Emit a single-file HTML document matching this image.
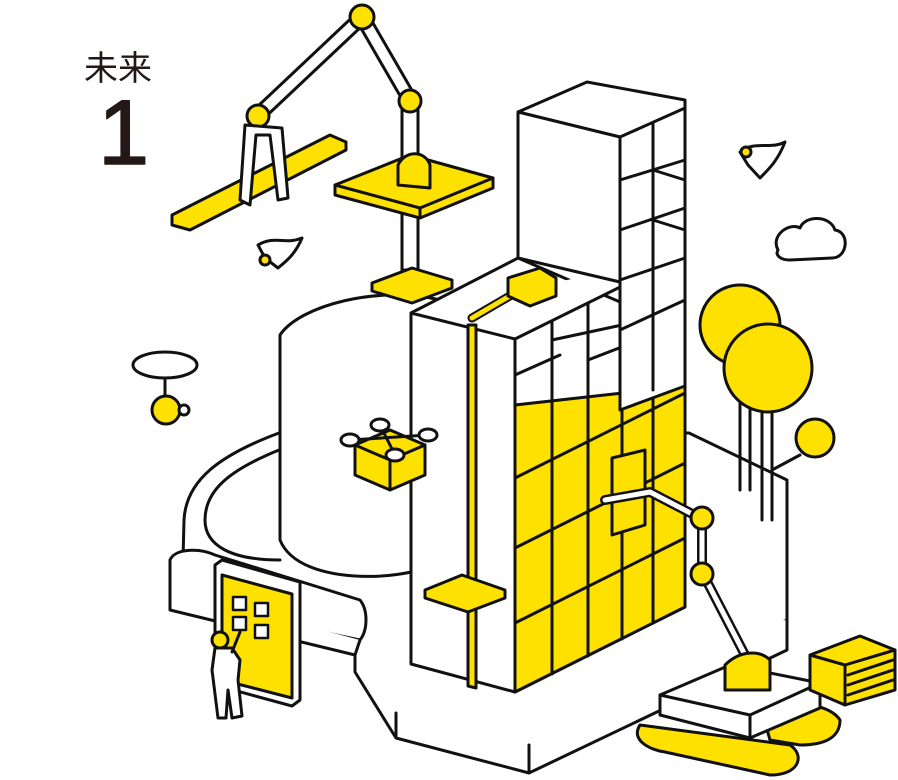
<!DOCTYPE html>
<html><head><meta charset="utf-8"><style>
body{margin:0;background:#fff;width:898px;height:780px;overflow:hidden}
svg{display:block}
text{font-family:"Liberation Sans","Noto Sans CJK JP",sans-serif;fill:#231815}
</style></head><body>
<svg width="898" height="780" viewBox="0 0 898 780" stroke="#111" stroke-width="3" stroke-linejoin="round" stroke-linecap="round" fill="#fff">
<text x="84" y="80" font-size="34" stroke="none">未来</text>
<text x="98" y="164" font-size="92" stroke="#231815" stroke-width="1.5">1</text>

<!-- ground platform -->
<path d="M279,433 C220,455 186,480 184,520 L183,560 L170,600 L355,647 L396,713 L529,745 L787,620 L787,480 L689,433 Z"/>
<path d="M355,647 L355,672 L396,738 L529,773 L787,650 L787,620 M396,713 L396,738 M529,745 L529,773"/>
<path d="M279,450 C230,470 205,490 205,520 C205,545 230,560 280,560" fill="none"/>

<!-- cylinder -->
<path d="M280,335 C300,305 380,285 440,300 L440,560 C420,580 300,590 280,540 Z"/>
<!-- hedge -->
<path d="M170,560 C175,548 200,548 215,555 L360,600 C368,610 368,630 360,640 L170,600 Z"/>
<path d="M170,590 L170,610 L355,655 L360,640"/>

<!-- lower building -->
<path d="M411,313 L518,258 L685,330 L685,607 L515,692 L411,664 Z"/>
<path d="M411,313 L515,339 L685,255 M515,339 L515,692"/>
<!-- yellow grid -->
<path d="M515,405 L685,386 L685,607 L515,692 Z" fill="#FFE100"/>
<g fill="none">
<path d="M552,321 L552,674 M588,303 L588,656 M622,286 L622,639 M653,270 L653,623"/>
<path d="M515,478 L685,393 M515,548 L685,463 M515,623 L685,538"/>
<path d="M515,375 L560,355 M552,340 L622,325 M588,360 L653,335 M622,395 L685,365"/>
</g>
<!-- yellow rail -->
<path d="M468,325 L476,325 L476,688 L468,686 Z" fill="#FFE100"/>
<path d="M472,318 L520,290" stroke="#111" stroke-width="9"/>
<path d="M472,318 L520,290" stroke="#FFE100" stroke-width="5"/>
<path d="M508,278 L540,268 L556,278 L556,296 L530,306 L508,296 Z" fill="#FFE100"/>
<!-- step -->
<path d="M425,590 L462,575 L505,590 L505,598 L468,612 L425,598 Z" fill="#FFE100"/>

<!-- tower -->
<path d="M518,112 L587,82 L685,100 L685,386 L620,410 L620,137 Z"/>
<path d="M518,112 L620,137 L620,282 L518,258 Z"/>
<path d="M620,137 L685,108" fill="none"/>
<g fill="none"><path d="M653,123 L653,390 M620,180 L685,160 M620,230 L685,208 M620,280 L685,258 M620,330 L685,300 M653,170 L685,180 M653,220 L685,230"/></g>

<!-- robot arm on building -->
<path d="M612,458 L645,450 L645,525 L612,535 Z" fill="#FFE100"/>
<path d="M605,500 L650,492 L700,518" fill="none" stroke-width="10"/>
<path d="M605,500 L650,492 L700,518" fill="none" stroke="#fff" stroke-width="5"/>
<path d="M702,520 L702,572 L745,655" fill="none" stroke-width="10"/>
<path d="M702,520 L702,572 L745,655" fill="none" stroke="#fff" stroke-width="5"/>
<circle cx="702" cy="518" r="11" fill="#FFE100"/>
<circle cx="702" cy="574" r="11" fill="#FFE100"/>

<!-- excavator -->
<path d="M640,725 C630,740 650,750 665,752 L770,775 C800,775 805,755 790,745 Z" fill="#FFE100"/>
<path d="M760,705 C800,700 830,705 840,720 C840,740 820,745 800,745 L770,740 Z" fill="#FFE100"/>
<path d="M660,695 L730,665 L820,683 L820,708 L750,738 L660,715 Z"/>
<path d="M660,695 L750,715 L820,683 M750,715 L750,738" fill="none"/>
<path d="M725,665 L725,690 L770,690 L770,660 C760,650 740,650 725,665 Z" fill="#FFE100"/>
<path d="M810,655 L860,636 L895,650 L895,690 L845,705 L810,690 Z" fill="#FFE100"/>
<path d="M845,665 L845,705 M810,655 L845,665 L895,650 M848,675 L893,660 M848,685 L893,670 M848,695 L893,680" fill="none"/>

<!-- kiosk -->
<path d="M215,565 L222,560 L300,582 L300,700 L292,706 L215,685 Z"/>
<path d="M222,575 L292,594 L292,698 L222,680 Z" fill="#FFE100"/>
<g fill="#fff" stroke-width="2.5"><rect x="233" y="597" width="13" height="13"/><rect x="255" y="603" width="13" height="13"/><rect x="233" y="617" width="13" height="13"/><rect x="255" y="625" width="13" height="13"/></g>
<!-- person -->
<circle cx="220" cy="640" r="8" fill="#FFE100"/>
<path d="M215,648 L212,670 L218,718 L226,718 L228,690 L232,718 L242,716 L238,680 L240,660 L232,648 Z"/>
<path d="M232,652 L240,632" fill="none"/>

<!-- crane -->
<path d="M258,115 L362,17 L410,100" fill="none" stroke-width="16"/>
<path d="M258,115 L362,17 L410,100" fill="none" stroke="#fff" stroke-width="10"/>
<rect x="402" y="100" width="16" height="170"/>
<path d="M335,185 L410,155 L493,178 L493,188 L420,218 L335,195 Z" fill="#FFE100"/>
<path d="M335,185 L420,208 L493,178 M420,208 L420,218" fill="none"/>
<path d="M398,165 L398,185 L430,188 L430,165 C425,150 405,150 398,165 Z" fill="#FFE100"/>
<path d="M372,283 L412,268 L452,280 L452,288 L412,303 L372,291 Z" fill="#FFE100"/>
<circle cx="362" cy="17" r="12" fill="#FFE100"/>
<circle cx="410" cy="101" r="11" fill="#FFE100"/>
<circle cx="258" cy="116" r="11" fill="#FFE100"/>
<path d="M172,215 L330,135 L346,142 L346,150 L190,230 L172,225 Z" fill="#FFE100"/>
<path d="M245,125 L240,200 L250,205 L256,135 L270,135 L278,200 L288,198 L282,128 Z" fill="#fff"/>

<!-- drone box (cube) -->
<path d="M355,445 L390,430 L425,445 L425,475 L390,490 L355,475 Z" fill="#FFE100"/>
<path d="M355,445 L390,460 L425,445 M390,460 L390,490 M350,440 L428,435 M380,425 L395,455" fill="none"/>
<g fill="#fff"><ellipse cx="350" cy="440" rx="9" ry="6"/><ellipse cx="428" cy="435" rx="9" ry="6"/><ellipse cx="380" cy="425" rx="9" ry="6"/><ellipse cx="395" cy="455" rx="9" ry="6"/></g>
<!-- left drone -->
<ellipse cx="165" cy="365" rx="32" ry="13"/>
<path d="M165,378 L165,395" fill="none"/>
<circle cx="166" cy="410" r="14" fill="#FFE100"/>
<circle cx="184" cy="410" r="5"/>
<!-- birds -->
<path d="M740,152 C755,140 770,150 785,142 C778,160 770,168 760,178 L748,165 Z"/>
<circle cx="746" cy="152" r="5" fill="#FFE100"/>
<path d="M258,245 C275,235 285,245 302,238 C295,255 285,262 278,268 L265,258 Z"/>
<circle cx="265" cy="260" r="5" fill="#FFE100"/>
<!-- cloud -->
<path d="M778,250 C770,235 790,222 800,228 C805,215 830,215 835,230 C850,232 848,258 832,258 L790,260 C780,260 775,255 778,250 Z"/>
<!-- trees -->
<path d="M740,400 L740,490 M750,400 L750,490 M762,410 L762,520 M772,410 L772,520 M772,470 L800,455" fill="none"/>
<circle cx="740" cy="325" r="40" fill="#FFE100"/>
<circle cx="768" cy="368" r="44" fill="#FFE100"/>
<circle cx="815" cy="438" r="19" fill="#FFE100"/>
</svg>
</body></html>
